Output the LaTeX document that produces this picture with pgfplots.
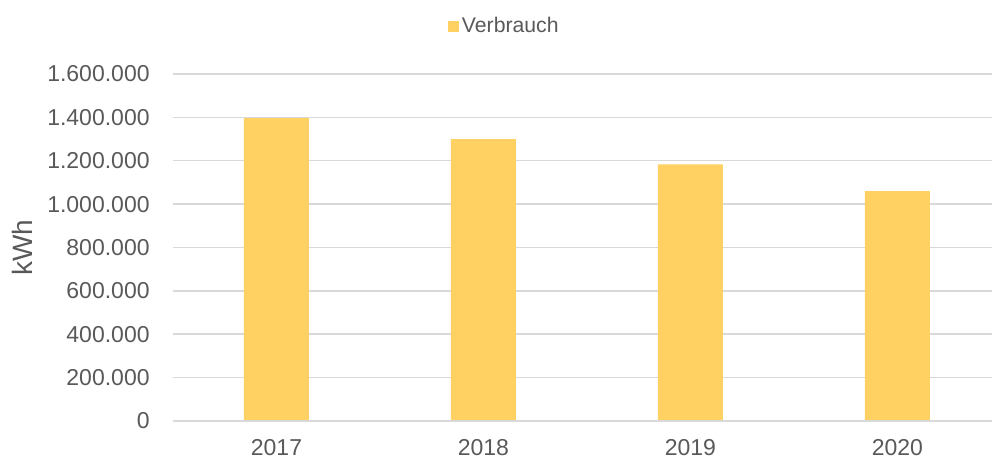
\documentclass[border=0pt]{standalone}
\usepackage{fontspec}
\setmainfont{Liberation Sans}
\usepackage{pgfplots}
\pgfplotsset{compat=1.18}
\definecolor{barc}{HTML}{FFD163}
\definecolor{txt}{HTML}{595959}
\definecolor{gridc}{HTML}{D9D9D9}
\begin{document}
\begin{tikzpicture}
\begin{axis}[
  scale only axis, width=409.5pt, height=173.5pt,
  at={(86.5pt,19pt)}, anchor=south west,
  xmin=-0.5, xmax=3.457, ymin=0, ymax=1600000,
  xtick={0,1,2,3}, xticklabels={2017,2018,2019,2020},
  ytick={0,200000,400000,600000,800000,1000000,1200000,1400000,1600000},
  scaled y ticks=false,
  /pgf/number format/assume math mode=true,
  /pgf/number format/1000 sep={.},
  /pgf/number format/fixed,
  ymajorgrids, grid style={gridc, line width=0.75pt},
  axis line style={draw=none},
  major tick length=0pt,
  tick label style={font=\fontsize{11.5}{13}\selectfont, text=txt},
  yticklabel style={anchor=east, inner sep=0pt, xshift=-11.5pt},
  xticklabel style={anchor=north, inner sep=0pt, yshift=-9.2pt},
  ylabel={kWh},
  every axis y label/.style={at={(axis description cs:-0.1844,0.5)}, rotate=90, anchor=center, font=\fontsize{14}{16}\selectfont, text=txt},
  legend style={at={(rel axis cs:0.405,1.136)}, anchor=center, draw=none, fill=none, font=\fontsize{10.6}{12}\selectfont, text=txt, inner sep=0pt, nodes={inner sep=1.5pt}},
  legend image code/.code={\fill[barc] (0pt,-2.8pt) rectangle (5.6pt,2.8pt);},
]
\addplot[ybar, bar width=0.314, fill=barc, draw=none] coordinates {
  (0,1396000) (1,1300000) (2,1183000) (3,1060000)
};
\addlegendentry{Verbrauch}
\draw[gridc, line width=0.75pt] (rel axis cs:0,0) -- (rel axis cs:1,0);
\end{axis}
\pgfresetboundingbox
\path (0,0) rectangle (496pt,229.5pt);
\end{tikzpicture}
\end{document}
